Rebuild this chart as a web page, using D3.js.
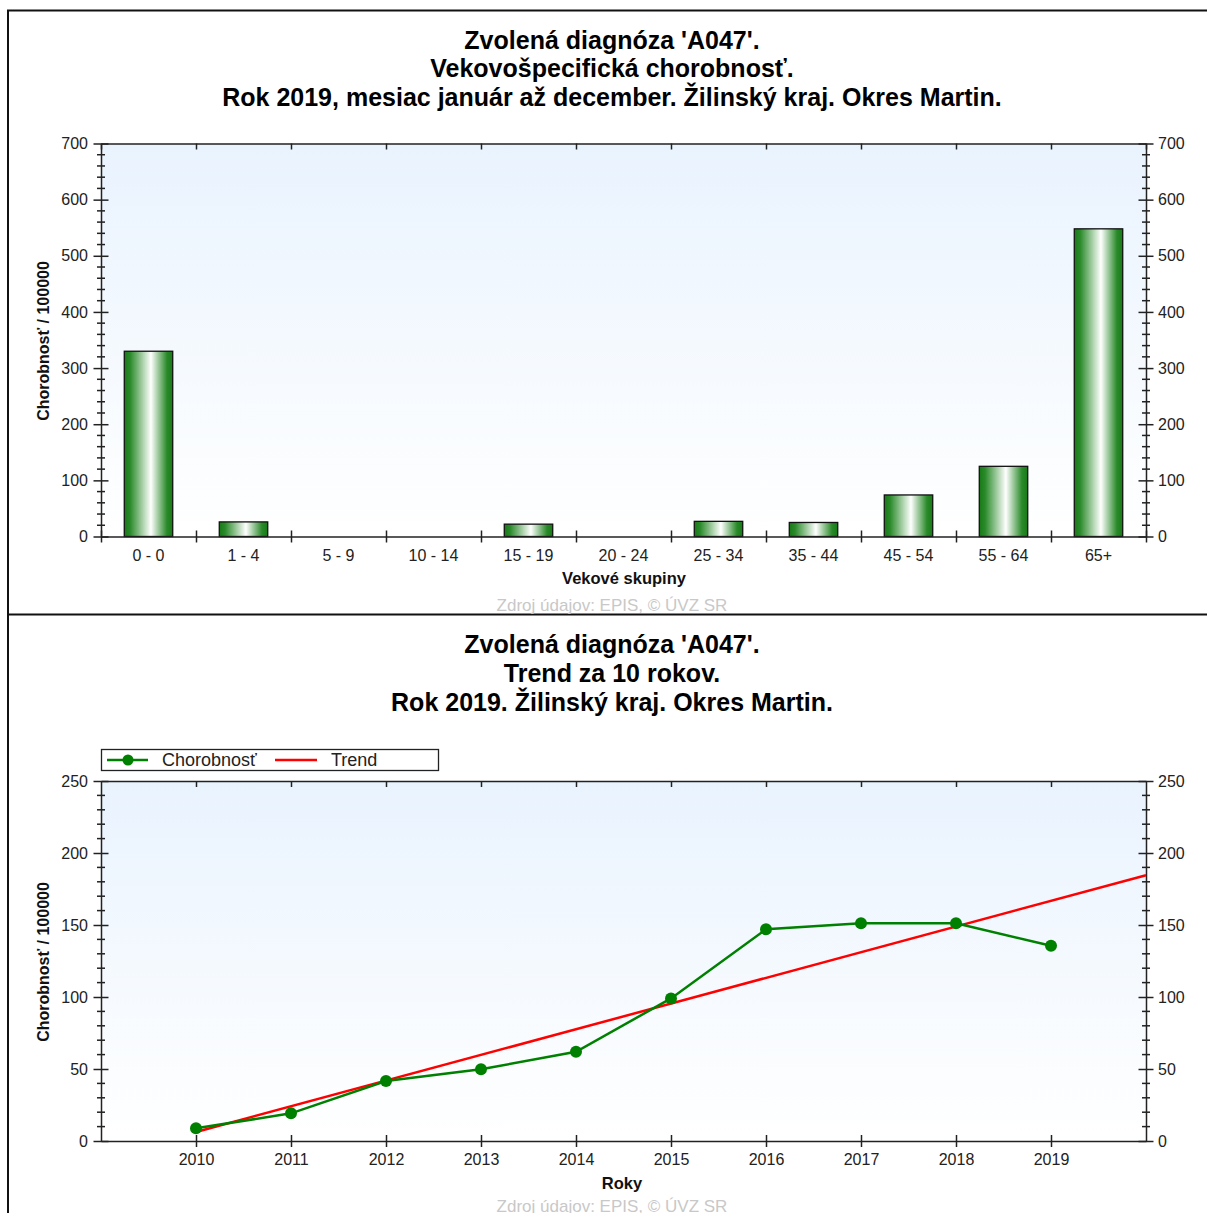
<!DOCTYPE html>
<html>
<head>
<meta charset="utf-8">
<script src="https://cdn.jsdelivr.net/npm/d3@7"></script>
<style>
  body { margin: 0; background: #fff; }
  svg { display: block; font-family: "Liberation Sans", Arial, sans-serif; }
  .tick text { font-size: 16px; fill: #222; }
  .title { font-size: 25px; font-weight: bold; fill: #000; text-anchor: middle; }
  .axisTitle { font-size: 16.5px; font-weight: bold; fill: #111; text-anchor: middle; }
  .source { font-size: 17px; fill: #c8c8c8; text-anchor: middle; }
</style>
</head>
<body>
<div id="chart"></div>
<script>
// data - age specific rate
var ageGroups = ["0 - 0", "1 - 4", "5 - 9", "10 - 14", "15 - 19", "20 - 24", "25 - 34", "35 - 44", "45 - 54", "55 - 64", "65+"];
var ageRates = [330, 26, 0, 0, 22, 0, 27, 25, 74, 125, 548];
var ageTicks = [0, 100, 200, 300, 400, 500, 600, 700];

// data - 10 year trend
var years = [2010, 2011, 2012, 2013, 2014, 2015, 2016, 2017, 2018, 2019];
var yearRates = [8.8, 19.2, 41.7, 49.8, 62, 99, 147, 151.2, 151.2, 135.6];
var trendYears = [2010, 2020];
var trendRates = [6.3, 184.6];
var trendTicks = [0, 50, 100, 150, 200, 250];

var W = 1207, H = 1213;

var svg = d3.select("#chart")
    .append("svg")
    .attr("width", W)
    .attr("height", H);

var defs = svg.append("defs");

var bg = defs.append("linearGradient").attr("id", "plotBg")
    .attr("x1", 0).attr("y1", 0).attr("x2", 0).attr("y2", 1);
bg.append("stop").attr("offset", "0%").attr("stop-color", "#e9f3fe");
bg.append("stop").attr("offset", "100%").attr("stop-color", "#ffffff");

var barGrad = defs.append("linearGradient").attr("id", "barGrad")
    .attr("x1", 0).attr("y1", 0).attr("x2", 1).attr("y2", 0);
[[0, "#167a16"], [0.12, "#2a8a2a"], [0.55, "#ffffff"], [0.88, "#2a8a2a"], [1, "#167a16"]]
    .forEach(function (s) {
        barGrad.append("stop").attr("offset", s[0]).attr("stop-color", s[1]);
    });

// panel frames
svg.append("path")
    .attr("d", "M8,1213 V10.5 H1207 M8,614.5 H1207")
    .attr("fill", "none").attr("stroke", "#111").attr("stroke-width", 2);

// helper: make ticks cross the axis line
function crossTicks(g, orient, major) {
    g.select(".domain").attr("stroke", "#222").attr("stroke-width", 1.5);
    g.selectAll(".tick line").attr("stroke", "#222").attr("stroke-width", 1.5);
    if (orient === "v") {
        g.selectAll(".tick line").attr("x1", -major).attr("x2", major);
    } else if (orient === "h") {
        g.selectAll(".tick line").attr("y1", -major).attr("y2", major);
    }
}

function minorTicks(g, scale, values, len) {
    g.selectAll(".minor").data(values).enter().append("line")
        .attr("class", "minor")
        .attr("x1", -len).attr("x2", len)
        .attr("y1", function (d) { return scale(d); })
        .attr("y2", function (d) { return scale(d); })
        .attr("stroke", "#222").attr("stroke-width", 1.5);
}

// ================= top chart =================
var m1 = { left: 101, right: 1146, top: 143.5, bottom: 536.5 };

svg.append("text").attr("class", "title").attr("x", 612).attr("y", 49).text("Zvolená diagnóza 'A047'.");
svg.append("text").attr("class", "title").attr("x", 612).attr("y", 77).text("Vekovošpecifická chorobnosť.");
svg.append("text").attr("class", "title").attr("x", 612).attr("y", 106).text("Rok 2019, mesiac január až december. Žilinský kraj. Okres Martin.");

var x1 = d3.scaleBand().domain(ageGroups).range([m1.left, m1.right]).padding(0);
var y1 = d3.scaleLinear().domain([0, 700]).range([m1.bottom, m1.top]);

svg.append("rect")
    .attr("x", m1.left).attr("y", m1.top)
    .attr("width", m1.right - m1.left).attr("height", m1.bottom - m1.top)
    .attr("fill", "url(#plotBg)");

// bars
svg.selectAll(".bar")
    .data(ageRates)
    .enter().append("rect")
    .attr("class", "bar")
    .attr("x", function (d, i) { return x1(ageGroups[i]) + x1.bandwidth() * 0.245; })
    .attr("width", x1.bandwidth() * 0.51)
    .attr("y", function (d) { return y1(d); })
    .attr("height", function (d) { return y1(0) - y1(d); })
    .attr("fill", "url(#barGrad)")
    .attr("stroke", "#111")
    .attr("stroke-width", function (d) { return d > 0 ? 1.3 : 0; });

// band boundaries for x ticks
var bounds1 = ageGroups.map(function (d) { return x1(d); }).concat([m1.right]);
var xb1 = d3.scaleLinear().domain([m1.left, m1.right]).range([m1.left, m1.right]);

var gx1 = svg.append("g")
    .attr("transform", "translate(0," + m1.bottom + ")")
    .call(d3.axisBottom(xb1).tickValues(bounds1).tickFormat("").tickSizeOuter(0));
crossTicks(gx1, "h", 6);

var gxt1 = svg.append("g")
    .attr("transform", "translate(0," + m1.top + ")")
    .call(d3.axisBottom(xb1).tickValues(bounds1).tickFormat("").tickSize(6).tickSizeOuter(0));
crossTicks(gxt1, "none", 0);

// category labels
svg.selectAll(".catLabel")
    .data(ageGroups)
    .enter().append("text")
    .attr("class", "catLabel")
    .attr("x", function (d) { return x1(d) + x1.bandwidth() / 2; })
    .attr("y", 561)
    .attr("text-anchor", "middle")
    .style("font-size", "16px").style("fill", "#222")
    .text(function (d) { return d; });

var minor1 = d3.range(0, 701, 20).filter(function (d) { return d % 100 !== 0; });

var gy1 = svg.append("g")
    .attr("transform", "translate(" + m1.left + ",0)")
    .call(d3.axisLeft(y1).tickValues(ageTicks).tickSizeOuter(0).tickPadding(7));
crossTicks(gy1, "v", 7.5);
minorTicks(gy1, y1, minor1, 4);

var gy1r = svg.append("g")
    .attr("transform", "translate(" + m1.right + ",0)")
    .call(d3.axisRight(y1).tickValues(ageTicks).tickSizeOuter(0).tickPadding(6));
crossTicks(gy1r, "v", 7.5);
minorTicks(gy1r, y1, minor1, 4);

svg.append("text").attr("class", "axisTitle")
    .attr("transform", "translate(49," + 341 + ") rotate(-90)")
    .style("font-size", "16px")
    .text("Chorobnosť / 100000");
svg.append("text").attr("class", "axisTitle").attr("x", 624).attr("y", 584).text("Vekové skupiny");
svg.append("text").attr("class", "source").attr("x", 612).attr("y", 611).text("Zdroj údajov: EPIS, © ÚVZ SR");

// ================= bottom chart =================
var m2 = { left: 101, right: 1146, top: 781, bottom: 1141 };

svg.append("text").attr("class", "title").attr("x", 612).attr("y", 653).text("Zvolená diagnóza 'A047'.");
svg.append("text").attr("class", "title").attr("x", 612).attr("y", 682).text("Trend za 10 rokov.");
svg.append("text").attr("class", "title").attr("x", 612).attr("y", 711).text("Rok 2019. Žilinský kraj. Okres Martin.");

var x2 = d3.scaleLinear().domain([2009, 2020]).range([m2.left, m2.right]);
var y2 = d3.scaleLinear().domain([0, 250]).range([m2.bottom, m2.top]);

svg.append("rect")
    .attr("x", m2.left).attr("y", m2.top)
    .attr("width", m2.right - m2.left).attr("height", m2.bottom - m2.top)
    .attr("fill", "url(#plotBg)");

var gx2 = svg.append("g")
    .attr("transform", "translate(0," + m2.bottom + ")")
    .call(d3.axisBottom(x2).tickValues(years).tickFormat(d3.format("d")).tickSizeOuter(0).tickPadding(7));
crossTicks(gx2, "h", 6);

var gxt2 = svg.append("g")
    .attr("transform", "translate(0," + m2.top + ")")
    .call(d3.axisBottom(x2).tickValues(years).tickFormat("").tickSize(6).tickSizeOuter(0));
crossTicks(gxt2, "none", 0);

var minor2 = d3.range(0, 251, 10).filter(function (d) { return d % 50 !== 0; });

var gy2 = svg.append("g")
    .attr("transform", "translate(" + m2.left + ",0)")
    .call(d3.axisLeft(y2).tickValues(trendTicks).tickSizeOuter(0).tickPadding(7));
crossTicks(gy2, "v", 7.5);
minorTicks(gy2, y2, minor2, 4);

var gy2r = svg.append("g")
    .attr("transform", "translate(" + m2.right + ",0)")
    .call(d3.axisRight(y2).tickValues(trendTicks).tickSizeOuter(0).tickPadding(6));
crossTicks(gy2r, "v", 7.5);
minorTicks(gy2r, y2, minor2, 4);

// trend line
svg.append("path")
    .datum(trendYears.map(function (d, i) { return [d, trendRates[i]]; }))
    .attr("fill", "none")
    .attr("stroke", "#ff0000")
    .attr("stroke-width", 2.5)
    .attr("d", d3.line().x(function (d) { return x2(d[0]); }).y(function (d) { return y2(d[1]); }));

// rate line
var rateData = years.map(function (d, i) { return [d, yearRates[i]]; });
svg.append("path")
    .datum(rateData)
    .attr("fill", "none")
    .attr("stroke", "#008000")
    .attr("stroke-width", 2.5)
    .attr("d", d3.line().x(function (d) { return x2(d[0]); }).y(function (d) { return y2(d[1]); }));

svg.selectAll(".dot")
    .data(rateData)
    .enter().append("circle")
    .attr("class", "dot")
    .attr("cx", function (d) { return x2(d[0]); })
    .attr("cy", function (d) { return y2(d[1]); })
    .attr("r", 6)
    .attr("fill", "#008000");

// legend
var lg = svg.append("g");
lg.append("rect").attr("x", 101.5).attr("y", 749.5).attr("width", 337).attr("height", 21)
    .attr("fill", "#fff").attr("stroke", "#222").attr("stroke-width", 1.3);
lg.append("line").attr("x1", 107).attr("x2", 148).attr("y1", 760).attr("y2", 760)
    .attr("stroke", "#008000").attr("stroke-width", 2.5);
lg.append("circle").attr("cx", 128).attr("cy", 760).attr("r", 5.5).attr("fill", "#008000");
lg.append("text").attr("x", 162).attr("y", 766).style("font-size", "18px").style("fill", "#222").text("Chorobnosť");
lg.append("line").attr("x1", 275).attr("x2", 317).attr("y1", 760).attr("y2", 760)
    .attr("stroke", "#ff0000").attr("stroke-width", 2.5);
lg.append("text").attr("x", 331).attr("y", 766).style("font-size", "18px").style("fill", "#222").text("Trend");

svg.append("text").attr("class", "axisTitle").attr("x", 622).attr("y", 1189).text("Roky");
svg.append("text").attr("class", "axisTitle")
    .attr("transform", "translate(49," + 962 + ") rotate(-90)")
    .style("font-size", "16px")
    .text("Chorobnosť / 100000");
svg.append("text").attr("class", "source").attr("x", 612).attr("y", 1212).text("Zdroj údajov: EPIS, © ÚVZ SR");
</script>
</body>
</html>
